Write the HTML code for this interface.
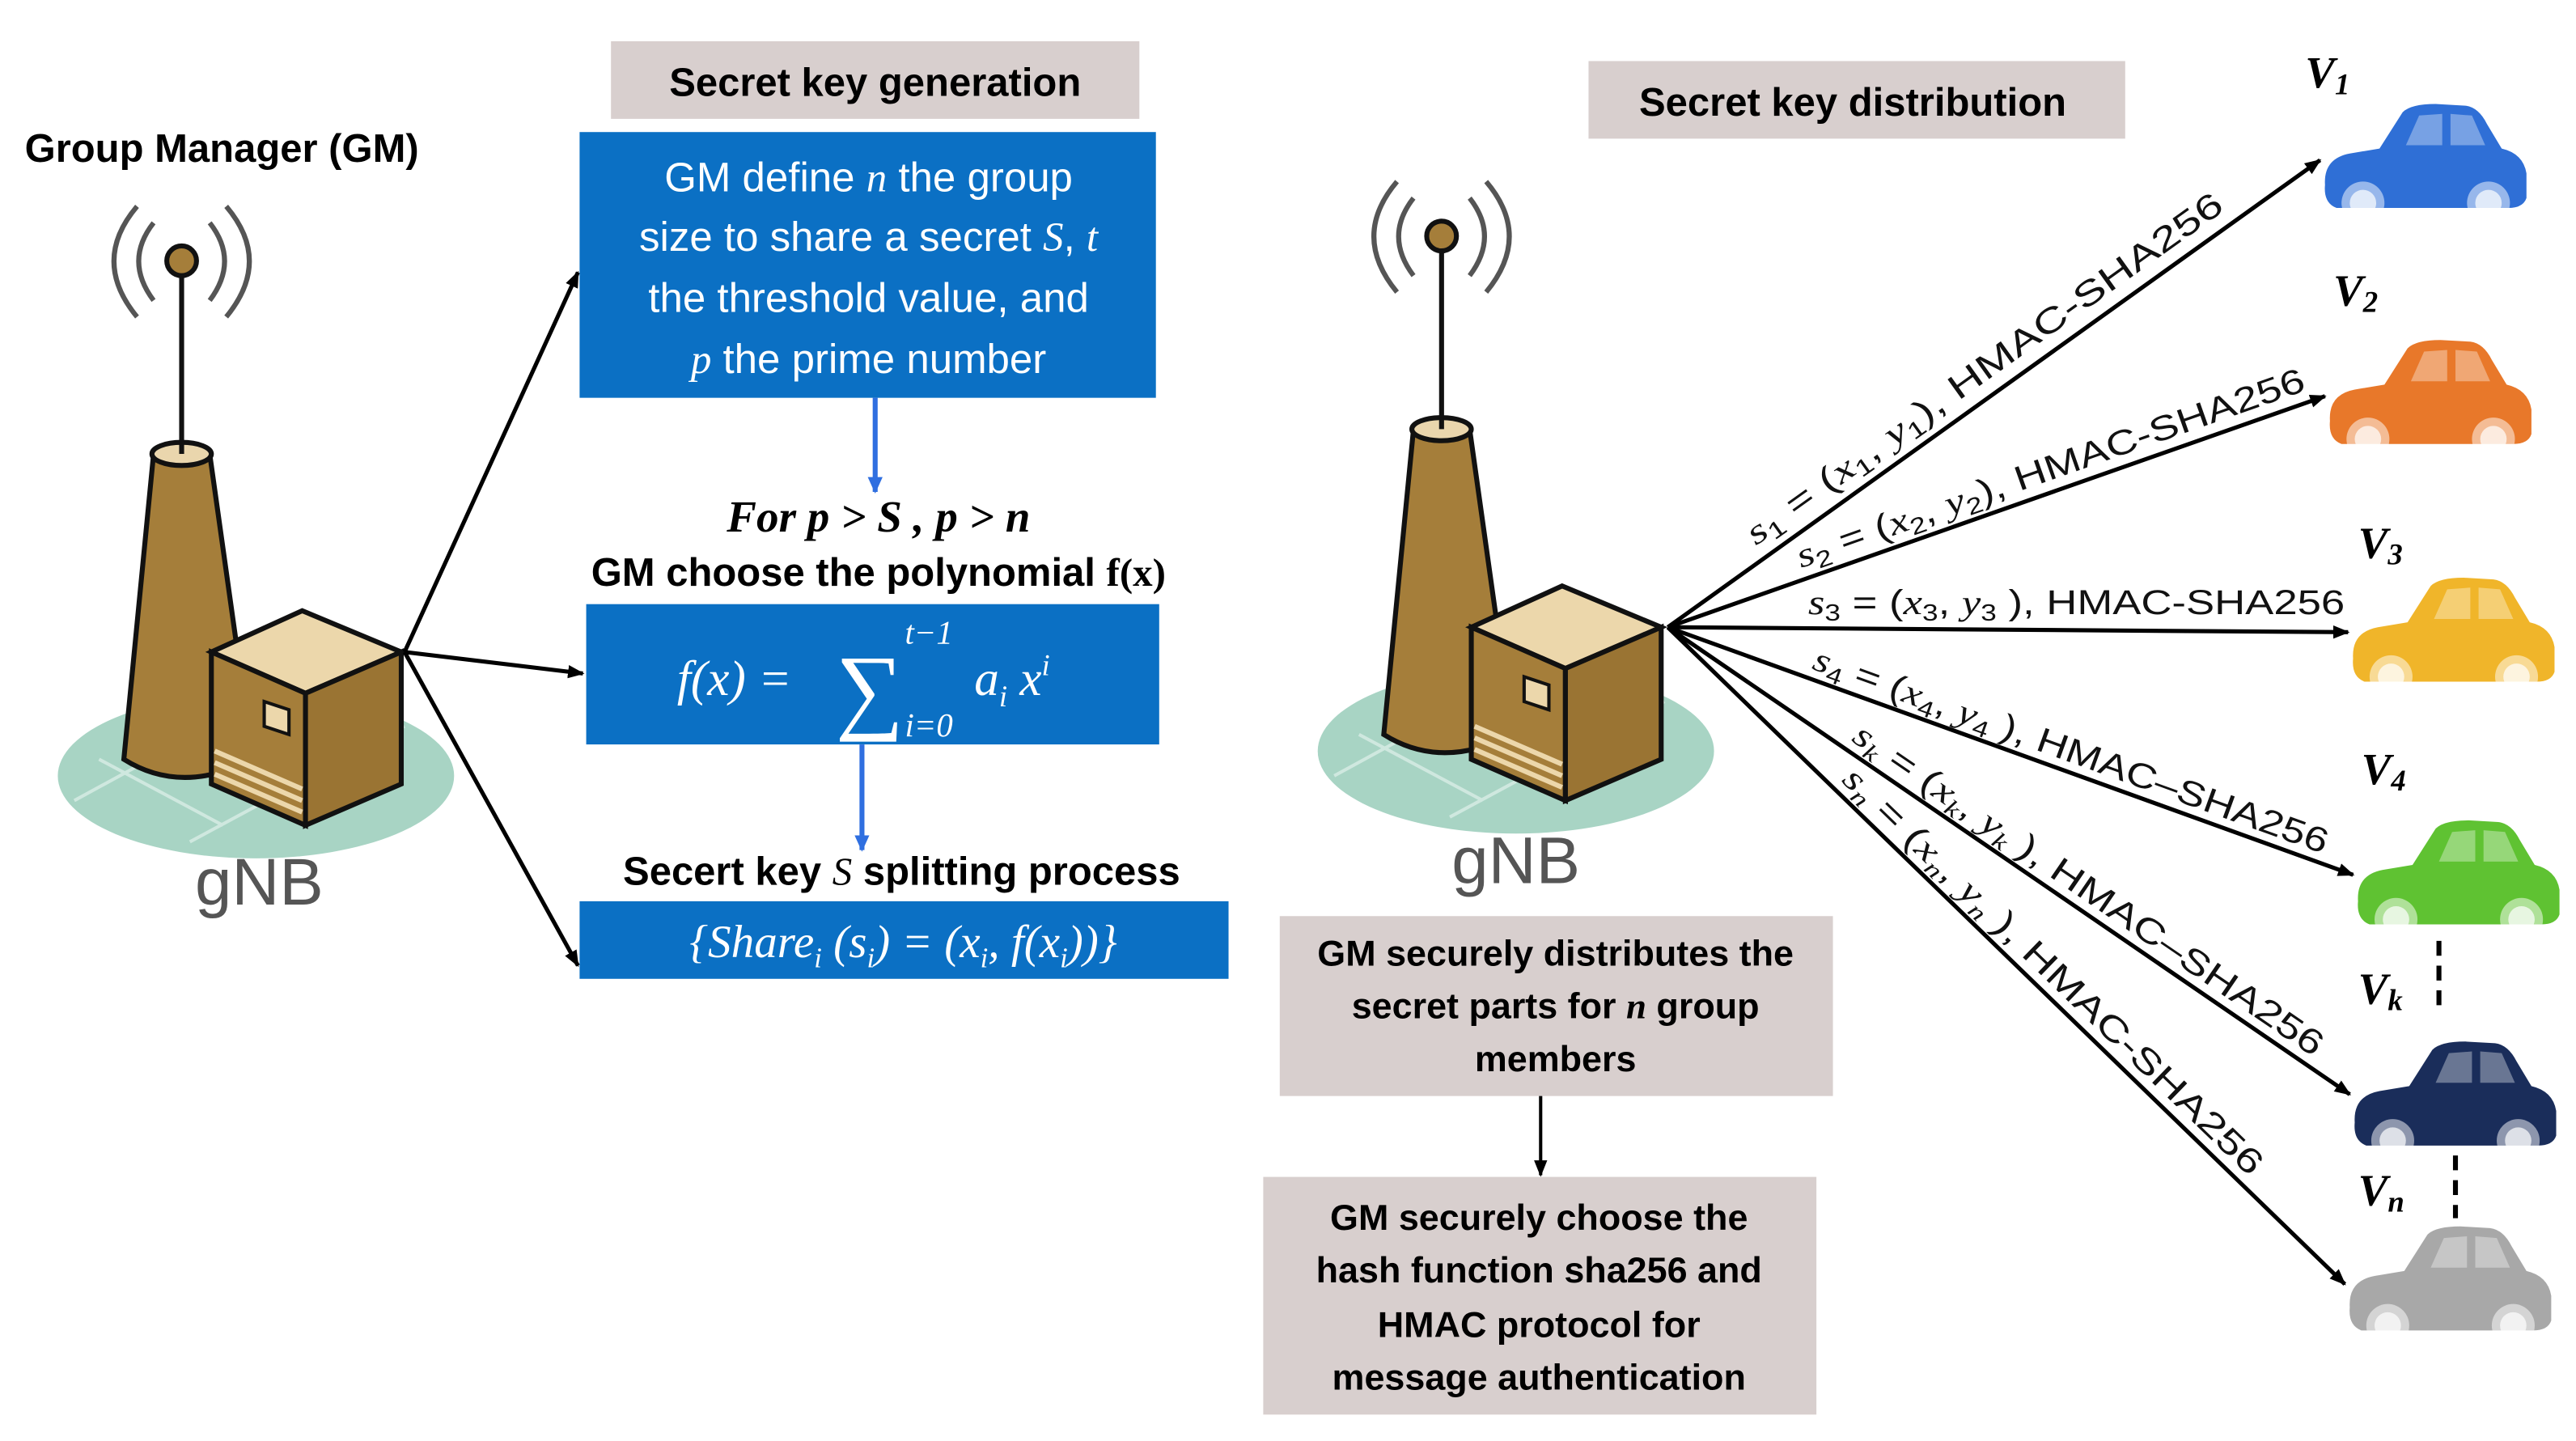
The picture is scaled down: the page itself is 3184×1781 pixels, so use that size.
<!DOCTYPE html>
<html><head><meta charset="utf-8"><style>
html,body{margin:0;padding:0;background:#fff;}
svg{display:block;}
.b{font-family:"Liberation Sans",sans-serif;font-weight:bold;}
.w{font-family:"Liberation Sans",sans-serif;fill:#fff;}
.m{font-family:"Liberation Serif",serif;font-style:italic;}
.lab{font-family:"Liberation Sans",sans-serif;font-size:21px;fill:#111;}
</style></head><body>
<svg width="3184" height="1781" viewBox="0 0 1560 873" preserveAspectRatio="none" xmlns="http://www.w3.org/2000/svg">
<defs>
<marker id="ak" markerWidth="10" markerHeight="8" refX="9" refY="4" orient="auto" markerUnits="userSpaceOnUse"><path d="M0,0 L10,4 L0,8 Z" fill="#000"/></marker>
<marker id="ab" markerWidth="10" markerHeight="9" refX="9" refY="4.5" orient="auto" markerUnits="userSpaceOnUse"><path d="M0,0 L10,4.5 L0,9 Z" fill="#2f6fe0"/></marker>
<g id="gnb">
  <ellipse cx="0" cy="0" rx="120" ry="50" fill="#a8d4c4"/>
  <path d="M-95,-10 L-20,30 M-60,-40 L40,20 M-110,15 L0,-45 M-40,40 L90,-30" stroke="#cfe8df" stroke-width="2"/>
  <path d="M-62,-195 L-28,-195 L-2,-10 Q-45,12 -80,-10 Z" fill="#a57e3a" stroke="#111" stroke-width="3"/>
  <ellipse cx="-45" cy="-195" rx="18" ry="7" fill="#ead6ad" stroke="#111" stroke-width="3"/>
  <line x1="-45" y1="-195" x2="-45" y2="-310" stroke="#111" stroke-width="3"/>
  <ellipse cx="-45" cy="-312" rx="9" ry="9" fill="#a57e3a" stroke="#111" stroke-width="3"/>
  <path d="M-62,-335 Q-80,-312 -62,-288 M-72,-345 Q-100,-312 -72,-278 M-28,-335 Q-10,-312 -28,-288 M-18,-345 Q10,-312 -18,-278" fill="none" stroke="#555" stroke-width="3"/>
  <path d="M-27,-75 L28,-100 L88,-75 L30,-50 Z" fill="#ecd7ab" stroke="#111" stroke-width="3"/>
  <path d="M-27,-75 L30,-50 L30,30 L-27,5 Z" fill="#a57e3a" stroke="#111" stroke-width="3"/>
  <path d="M30,-50 L88,-75 L88,5 L30,30 Z" fill="#9a7433" stroke="#111" stroke-width="3"/>
  <path d="M-25,-15 L28,8 M-25,-8 L28,15 M-25,-1 L28,22" stroke="#ecd7ab" stroke-width="3"/>
  <path d="M5,-45 L20,-40 L20,-25 L5,-30 Z" fill="#ecd7ab" stroke="#111" stroke-width="2"/>
</g>
<g id="car">
  <path d="M3,52 Q2,36 18,33 L36,30 L50,8 Q55,3 70,3 L88,4 Q96,5 101,15 L110,30 Q123,33 125,45 L125,60 Q123,66 114,66 L10,66 Q2,63 3,52 Z"/>
  <path d="M52,28 L60,10 L74,9 L74,28 Z M79,9 L92,10 L100,28 L79,28 Z" fill="#fff" opacity="0.35"/>
  <circle cx="26" cy="63" r="13" fill="#fff" opacity="0.5"/><circle cx="26" cy="63" r="8" fill="#fff" opacity="0.7"/>
  <circle cx="102" cy="63" r="13" fill="#fff" opacity="0.5"/><circle cx="102" cy="63" r="8" fill="#fff" opacity="0.7"/>
</g>
</defs>

<!-- LEFT -->
<text x="15" y="98" class="b" font-size="24">Group Manager (GM)</text>
<use href="#gnb" transform="translate(155,470)"/>
<text x="157" y="548" font-family="Liberation Sans,sans-serif" font-size="40" fill="#555" text-anchor="middle">gNB</text>

<rect x="370" y="25" width="320" height="47" fill="#d8cfce"/>
<text x="530" y="58" class="b" font-size="24" text-anchor="middle">Secret key generation</text>

<rect x="351" y="80" width="349" height="161" fill="#0b70c4"/>
<g class="w" font-size="25" text-anchor="middle">
<text x="526" y="116">GM define <tspan class="m">n</tspan> the group</text>
<text x="526" y="152">size to share a secret <tspan class="m">S</tspan>, <tspan class="m">t</tspan></text>
<text x="526" y="189">the threshold value, and</text>
<text x="526" y="226"><tspan class="m">p</tspan> the prime number</text>
</g>
<line x1="530" y1="241" x2="530" y2="298" stroke="#2f6fe0" stroke-width="3" marker-end="url(#ab)"/>
<text x="532" y="322" font-family="Liberation Serif,serif" font-weight="bold" font-style="italic" font-size="27" text-anchor="middle">For p  &gt;  S , p &gt; n</text>
<text x="532" y="355" class="b" font-size="24" text-anchor="middle">GM choose the polynomial <tspan font-family="Liberation Serif,serif">f(x)</tspan></text>

<rect x="355" y="366" width="347" height="85" fill="#0b70c4"/>
<text x="410" y="421" class="m" font-size="30" fill="#fff">f(x) =</text>
<text x="506" y="437" font-family="Liberation Serif,serif" font-size="58" fill="#fff">∑</text>
<text x="548" y="390" class="m" font-size="20" fill="#fff">t−1</text>
<text x="548" y="446" class="m" font-size="20" fill="#fff">i=0</text>
<text x="590" y="421" class="m" font-size="30" fill="#fff">a<tspan font-size="18" dy="7">i</tspan><tspan dy="-7"> x</tspan><tspan font-size="18" dy="-12">i</tspan></text>

<line x1="522" y1="451" x2="522" y2="515" stroke="#2f6fe0" stroke-width="3" marker-end="url(#ab)"/>
<text x="546" y="536" class="b" font-size="24" text-anchor="middle">Secert key <tspan class="m" font-weight="normal" font-family="Liberation Serif,serif">S</tspan> splitting process</text>
<rect x="351" y="546" width="393" height="47" fill="#0b70c4"/>
<text x="547" y="580" class="m" font-size="28" fill="#fff" text-anchor="middle">{Share<tspan font-size="17" dy="6">i</tspan><tspan dy="-6"> (s</tspan><tspan font-size="17" dy="6">i</tspan><tspan dy="-6">) =  (x</tspan><tspan font-size="17" dy="6">i</tspan><tspan dy="-6">, f(x</tspan><tspan font-size="17" dy="6">i</tspan><tspan dy="-6">))}</tspan></text>

<g stroke="#000" stroke-width="2.5" fill="none">
<line x1="245" y1="395" x2="350" y2="165" marker-end="url(#ak)"/>
<line x1="245" y1="395" x2="353" y2="408" marker-end="url(#ak)"/>
<line x1="245" y1="395" x2="350" y2="585" marker-end="url(#ak)"/>
</g>

<!-- RIGHT -->
<rect x="962" y="37" width="325" height="47" fill="#d8cfce"/>
<text x="1122" y="70" class="b" font-size="24" text-anchor="middle">Secret key distribution</text>
<use href="#gnb" transform="translate(918,455)"/>
<text x="918" y="535" font-family="Liberation Sans,sans-serif" font-size="40" fill="#555" text-anchor="middle">gNB</text>

<g stroke="#000" stroke-width="2.5" fill="none">
<line x1="1010" y1="380" x2="1405" y2="97" marker-end="url(#ak)"/>
<line x1="1010" y1="380" x2="1408" y2="240" marker-end="url(#ak)"/>
<line x1="1010" y1="380" x2="1422" y2="383" marker-end="url(#ak)"/>
<line x1="1010" y1="380" x2="1425" y2="530" marker-end="url(#ak)"/>
<line x1="1010" y1="380" x2="1423" y2="663" marker-end="url(#ak)"/>
<line x1="1010" y1="380" x2="1420" y2="778" marker-end="url(#ak)"/>
</g>
<g class="lab">
<text transform="translate(1010,380) rotate(-35.6)" x="72" y="-9" textLength="350" lengthAdjust="spacingAndGlyphs"><tspan class="m">s</tspan><tspan font-size="14" dy="4">1</tspan><tspan dy="-4"> = (</tspan><tspan class="m">x</tspan><tspan font-size="14" dy="4">1</tspan><tspan dy="-4">, </tspan><tspan class="m">y</tspan><tspan font-size="14" dy="4">1</tspan><tspan dy="-4">), HMAC-SHA256</tspan></text>
<text transform="translate(1010,380) rotate(-19.4)" x="88" y="-7" textLength="325" lengthAdjust="spacingAndGlyphs"><tspan class="m">s</tspan><tspan font-size="14" dy="4">2</tspan><tspan dy="-4"> = (</tspan><tspan class="m">x</tspan><tspan font-size="14" dy="4">2</tspan><tspan dy="-4">, </tspan><tspan class="m">y</tspan><tspan font-size="14" dy="4">2</tspan><tspan dy="-4">), HMAC-SHA256</tspan></text>
<text x="1095" y="372" textLength="325" lengthAdjust="spacingAndGlyphs"><tspan class="m">s</tspan><tspan font-size="14" dy="4">3</tspan><tspan dy="-4"> = (</tspan><tspan class="m">x</tspan><tspan font-size="14" dy="4">3</tspan><tspan dy="-4">, </tspan><tspan class="m">y</tspan><tspan font-size="14" dy="4">3</tspan><tspan dy="-4"> ), HMAC-SHA256</tspan></text>
<text transform="translate(1010,380) rotate(19.9)" x="90" y="-6" textLength="330" lengthAdjust="spacingAndGlyphs"><tspan class="m">s</tspan><tspan font-size="14" dy="4">4</tspan><tspan dy="-4"> = (</tspan><tspan class="m">x</tspan><tspan font-size="14" dy="4">4</tspan><tspan dy="-4">, </tspan><tspan class="m">y</tspan><tspan font-size="14" dy="4">4</tspan><tspan dy="-4"> ), HMAC–SHA256</tspan></text>
<text transform="translate(1010,380) rotate(34.4)" x="130" y="-6" textLength="340" lengthAdjust="spacingAndGlyphs"><tspan class="m">s</tspan><tspan font-size="14" dy="4" class="m">k</tspan><tspan dy="-4"> = (</tspan><tspan class="m">x</tspan><tspan font-size="14" dy="4" class="m">k</tspan><tspan dy="-4">, </tspan><tspan class="m">y</tspan><tspan font-size="14" dy="4" class="m">k</tspan><tspan dy="-4"> ), HMAC–SHA256</tspan></text>
<text transform="translate(1010,380) rotate(44.1)" x="140" y="-6" textLength="345" lengthAdjust="spacingAndGlyphs"><tspan class="m">s</tspan><tspan font-size="14" dy="4" class="m">n</tspan><tspan dy="-4"> = (</tspan><tspan class="m">x</tspan><tspan font-size="14" dy="4" class="m">n</tspan><tspan dy="-4">, </tspan><tspan class="m">y</tspan><tspan font-size="14" dy="4" class="m">n</tspan><tspan dy="-4"> ), HMAC-SHA256</tspan></text>
</g>

<!-- cars -->
<use href="#car" transform="translate(1405,60)" fill="#2f6fd6"/>
<use href="#car" transform="translate(1408,203)" fill="#e8782a"/>
<use href="#car" transform="translate(1422,347)" fill="#f0b52a"/>
<use href="#car" transform="translate(1425,494)" fill="#5fc232"/>
<use href="#car" transform="translate(1423,628)" fill="#1a2d5a"/>
<use href="#car" transform="translate(1420,740)" fill="#a8a8a8"/>
<g font-family="Liberation Serif,serif" font-weight="bold" font-style="italic" font-size="27">
<text x="1396" y="53">V<tspan font-size="18" dy="4">1</tspan></text>
<text x="1413" y="185">V<tspan font-size="18" dy="4">2</tspan></text>
<text x="1428" y="338">V<tspan font-size="18" dy="4">3</tspan></text>
<text x="1430" y="475">V<tspan font-size="18" dy="4">4</tspan></text>
<text x="1428" y="608">V<tspan font-size="18" dy="4">k</tspan></text>
<text x="1428" y="730">V<tspan font-size="18" dy="4">n</tspan></text>
</g>
<line x1="1477" y1="570" x2="1477" y2="612" stroke="#000" stroke-width="3" stroke-dasharray="9,6"/>
<line x1="1487" y1="700" x2="1487" y2="738" stroke="#000" stroke-width="3" stroke-dasharray="9,6"/>

<rect x="775" y="555" width="335" height="109" fill="#d8cfce"/>
<g class="b" font-size="22" text-anchor="middle">
<text x="942" y="585">GM securely distributes the</text>
<text x="942" y="617">secret parts for <tspan font-family="Liberation Serif,serif" font-style="italic">n</tspan> group</text>
<text x="942" y="649">members</text>
</g>
<line x1="933" y1="664" x2="933" y2="712" stroke="#000" stroke-width="2" marker-end="url(#ak)"/>
<rect x="765" y="713" width="335" height="144" fill="#d8cfce"/>
<g class="b" font-size="22" text-anchor="middle">
<text x="932" y="745">GM securely choose the</text>
<text x="932" y="777">hash function sha256 and</text>
<text x="932" y="810">HMAC protocol for</text>
<text x="932" y="842">message authentication</text>
</g>
</svg>
</body></html>
